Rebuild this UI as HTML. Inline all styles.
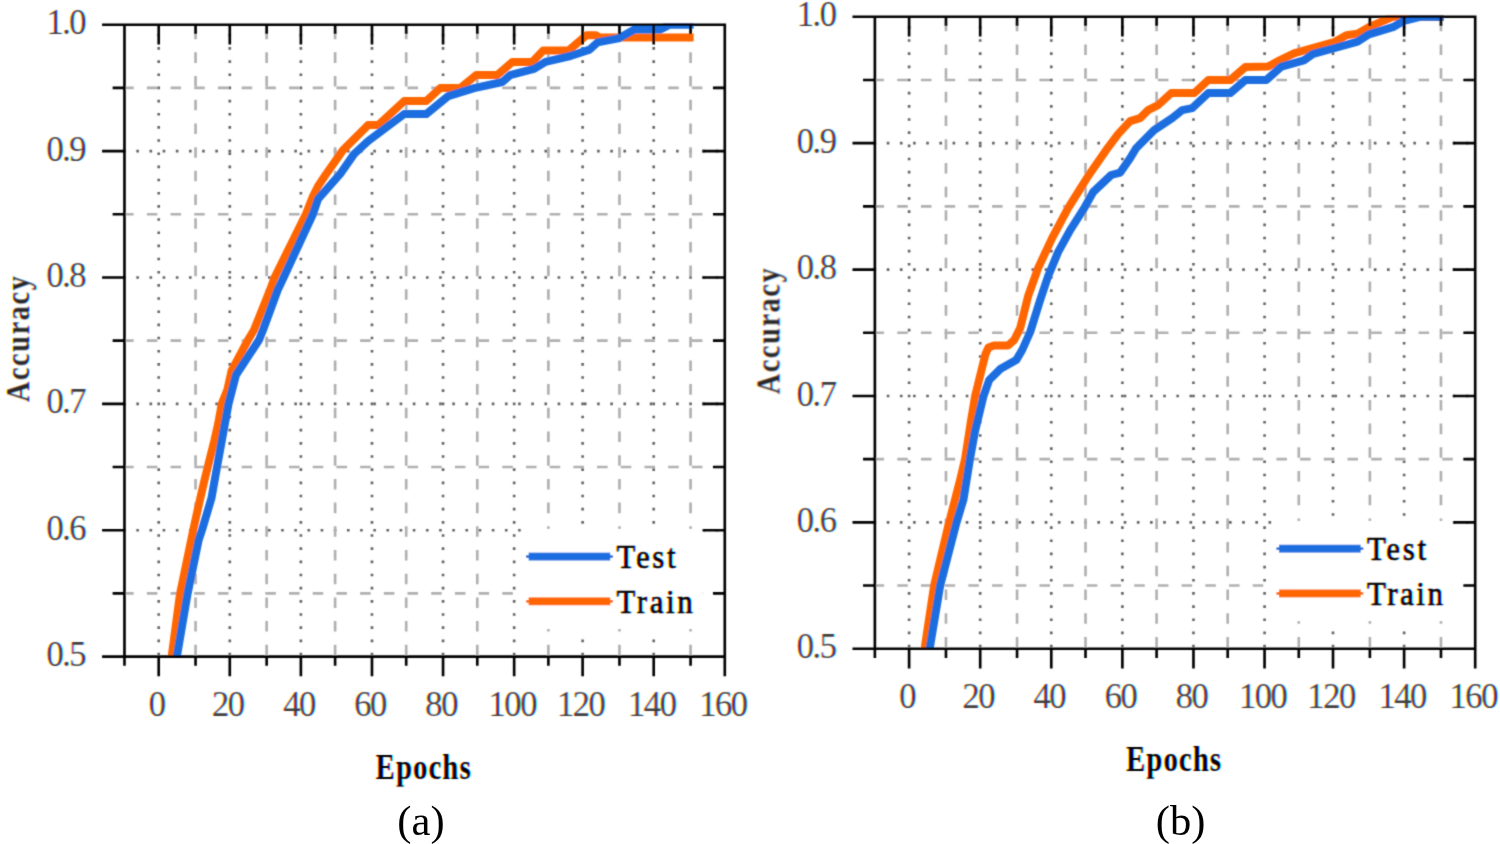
<!DOCTYPE html>
<html><head><meta charset="utf-8"><title>Accuracy vs Epochs</title>
<style>
html,body{margin:0;padding:0;background:#fff;}
body{width:1500px;height:844px;overflow:hidden;position:relative;}
svg{position:absolute;left:0;top:0;display:block;}
text{font-family:"Liberation Serif","Times New Roman",serif;fill:#000;}
.tk{font-size:35px;letter-spacing:-1.7px;fill-opacity:0.76;}
.lg{font-size:34px;stroke:#000;stroke-width:0.7px;}
.ti{font-size:35px;font-weight:bold;}
.rot{fill-opacity:0.85;font-size:34.5px;}
.cap{font-size:42.6px;fill:#000;}
.ct{mix-blend-mode:multiply;}
</style></head><body>
<svg width="1500" height="844" viewBox="0 0 1500 844">
<defs>
<filter id="soft" filterUnits="userSpaceOnUse" x="0" y="0" width="1500" height="844"><feConvolveMatrix order="3" kernelMatrix="1 4 1 4 16 4 1 4 1" divisor="36" edgeMode="duplicate"/></filter>
<filter id="ctA" filterUnits="userSpaceOnUse" x="0" y="0" width="750" height="800" color-interpolation-filters="sRGB"><feConvolveMatrix in="SourceAlpha" order="3" kernelMatrix="1 4 1 4 16 4 1 4 1" divisor="36" edgeMode="none" result="a"/>
<feOffset in="a" dx="0.88" result="aR"/><feOffset in="a" dx="-0.88" result="aB"/>
<feColorMatrix in="aR" type="matrix" values="0 0 0 -1 1  0 0 0 0 1  0 0 0 0 1  0 0 0 0 1" result="cR"/>
<feColorMatrix in="a" type="matrix" values="0 0 0 0 1  0 0 0 -1 1  0 0 0 0 1  0 0 0 0 1" result="cG"/>
<feColorMatrix in="aB" type="matrix" values="0 0 0 0 1  0 0 0 0 1  0 0 0 -1 1  0 0 0 0 1" result="cB"/>
<feBlend in="cR" in2="cG" mode="multiply" result="m"/><feBlend in="m" in2="cB" mode="multiply"/></filter>
<filter id="ctB" filterUnits="userSpaceOnUse" x="750" y="0" width="750" height="800" color-interpolation-filters="sRGB"><feConvolveMatrix in="SourceAlpha" order="3" kernelMatrix="1 4 1 4 16 4 1 4 1" divisor="36" edgeMode="none" result="a"/>
<feOffset in="a" dx="0.88" result="aR"/><feOffset in="a" dx="-0.88" result="aB"/>
<feColorMatrix in="aR" type="matrix" values="0 0 0 -1 1  0 0 0 0 1  0 0 0 0 1  0 0 0 0 1" result="cR"/>
<feColorMatrix in="a" type="matrix" values="0 0 0 0 1  0 0 0 -1 1  0 0 0 0 1  0 0 0 0 1" result="cG"/>
<feColorMatrix in="aB" type="matrix" values="0 0 0 0 1  0 0 0 0 1  0 0 0 -1 1  0 0 0 0 1" result="cB"/>
<feBlend in="cR" in2="cG" mode="multiply" result="m"/><feBlend in="m" in2="cB" mode="multiply"/></filter>
</defs>
<rect width="1500" height="844" fill="#fff"/>
<g id="chart-a" filter="url(#soft)">
<g transform="translate(-0.6,-0.31) scale(2.633)">
<g stroke-width="1" fill="none"><line x1="60.5" y1="249" x2="60.5" y2="9" stroke="#646464" stroke-dasharray="1 4"/><line x1="87.5" y1="249" x2="87.5" y2="9" stroke="#646464" stroke-dasharray="1 4"/><line x1="114.5" y1="249" x2="114.5" y2="9" stroke="#646464" stroke-dasharray="1 4"/><line x1="141.5" y1="249" x2="141.5" y2="9" stroke="#646464" stroke-dasharray="1 4"/><line x1="168.5" y1="249" x2="168.5" y2="9" stroke="#646464" stroke-dasharray="1 4"/><line x1="195.5" y1="249" x2="195.5" y2="9" stroke="#646464" stroke-dasharray="1 4"/><line x1="221.5" y1="249" x2="221.5" y2="9" stroke="#646464" stroke-dasharray="1 4"/><line x1="248.5" y1="249" x2="248.5" y2="9" stroke="#646464" stroke-dasharray="1 4"/><line x1="47" y1="201.5" x2="275" y2="201.5" stroke="#646464" stroke-dasharray="1 4"/><line x1="47" y1="153.5" x2="275" y2="153.5" stroke="#646464" stroke-dasharray="1 4"/><line x1="47" y1="105.5" x2="275" y2="105.5" stroke="#646464" stroke-dasharray="1 4"/><line x1="47" y1="57.5" x2="275" y2="57.5" stroke="#646464" stroke-dasharray="1 4"/><line x1="74.5" y1="249" x2="74.5" y2="9" stroke="#b0b0b0" stroke-dasharray="4 5"/><line x1="101.5" y1="249" x2="101.5" y2="9" stroke="#b0b0b0" stroke-dasharray="4 5"/><line x1="127.5" y1="249" x2="127.5" y2="9" stroke="#b0b0b0" stroke-dasharray="4 5"/><line x1="154.5" y1="249" x2="154.5" y2="9" stroke="#b0b0b0" stroke-dasharray="4 5"/><line x1="181.5" y1="249" x2="181.5" y2="9" stroke="#b0b0b0" stroke-dasharray="4 5"/><line x1="208.5" y1="249" x2="208.5" y2="9" stroke="#b0b0b0" stroke-dasharray="4 5"/><line x1="235.5" y1="249" x2="235.5" y2="9" stroke="#b0b0b0" stroke-dasharray="4 5"/><line x1="262.5" y1="249" x2="262.5" y2="9" stroke="#b0b0b0" stroke-dasharray="4 5"/><line x1="47" y1="225.5" x2="275" y2="225.5" stroke="#b0b0b0" stroke-dasharray="4 5"/><line x1="47" y1="177.5" x2="275" y2="177.5" stroke="#b0b0b0" stroke-dasharray="4 5"/><line x1="47" y1="129.5" x2="275" y2="129.5" stroke="#b0b0b0" stroke-dasharray="4 5"/><line x1="47" y1="81.5" x2="275" y2="81.5" stroke="#b0b0b0" stroke-dasharray="4 5"/><line x1="47" y1="33.5" x2="275" y2="33.5" stroke="#b0b0b0" stroke-dasharray="4 5"/></g>
</g>
<clipPath id="clip1"><rect x="123.15" y="23.39" width="602.96" height="634.55"/></clipPath>
<g clip-path="url(#clip1)" fill="none" stroke-width="8" stroke-linejoin="round" stroke-linecap="square">
<polyline points="171.5,660.0 172.0,654.0 180.0,594.0 193.2,530.2 198.6,505.6 203.9,482.6 209.3,460.8 214.5,439.9 218.5,422.1 221.7,404.0 227.4,389.6 231.5,371.0 248.0,340.0 254.0,330.0 270.0,290.0 274.5,277.7 306.0,214.0 313.0,196.2 318.0,186.2 326.0,174.2 343.0,150.1 368.1,125.1 378.1,125.1 404.1,101.1 426.2,101.1 440.2,88.1 460.2,88.1 476.2,75.0 497.3,75.0 512.3,62.0 532.3,62.0 543.2,50.4 568.8,50.4 586.4,35.2 596.0,35.2 599.2,37.6 689.6,37.6" stroke="#ff6600"/>
<polyline points="177.0,660.0 177.3,654.0 187.6,593.6 198.7,540.0 202.0,530.0 211.5,498.0 217.0,467.0 228.5,404.0 236.0,375.0 259.0,340.0 263.0,330.0 277.7,290.0 283.5,277.7 313.0,214.0 318.0,199.2 340.0,174.2 354.0,154.1 368.0,141.1 384.0,129.1 404.1,114.1 426.2,114.1 448.2,96.1 474.2,88.1 502.3,82.0 510.0,75.2 534.0,68.8 545.5,61.8 570.4,56.0 589.6,49.6 597.6,42.4 618.4,38.4 634.4,29.6 660.0,29.6 669.6,24.7 689.6,24.7" stroke="#1c6ee0"/>
</g>
<g transform="translate(-0.6,-0.31) scale(2.633)">
<rect x="199" y="201" width="68" height="38" fill="#fff"/>
<rect x="201" y="210" width="31" height="3" fill="#1c6ee0"/><rect x="200" y="211" width="33" height="1" fill="#1c6ee0"/>
<rect x="201" y="227" width="31" height="3" fill="#ff6600"/><rect x="200" y="228" width="33" height="1" fill="#ff6600"/>
<path d="M39 9.5H276 M39 249.5H276 M47.5 9V253 M275.5 9V257 M60.5 9v8 M60.5 249v8 M74.5 9v4 M74.5 249v4 M87.5 9v8 M87.5 249v8 M101.5 9v4 M101.5 249v4 M114.5 9v8 M114.5 249v8 M127.5 9v4 M127.5 249v4 M141.5 9v8 M141.5 249v8 M154.5 9v4 M154.5 249v4 M168.5 9v8 M168.5 249v8 M181.5 9v4 M181.5 249v4 M195.5 9v8 M195.5 249v8 M208.5 9v4 M208.5 249v4 M221.5 9v8 M221.5 249v8 M235.5 9v4 M235.5 249v4 M248.5 9v8 M248.5 249v8 M262.5 9v4 M262.5 249v4 M48 225.5h-5 M276 225.5h-5 M48 201.5h-9 M276 201.5h-9 M48 177.5h-5 M276 177.5h-5 M48 153.5h-9 M276 153.5h-9 M48 129.5h-5 M276 129.5h-5 M48 105.5h-9 M276 105.5h-9 M48 81.5h-5 M276 81.5h-5 M48 57.5h-9 M276 57.5h-9 M48 33.5h-5 M276 33.5h-5" stroke="#000" stroke-width="1" fill="none"/>
</g>
</g>
<g id="chart-b" filter="url(#soft)">
<g transform="translate(-0.6,-0.31) scale(2.633)">
<g stroke-width="1" fill="none"><line x1="345.5" y1="246" x2="345.5" y2="6" stroke="#646464" stroke-dasharray="1 4"/><line x1="372.5" y1="246" x2="372.5" y2="6" stroke="#646464" stroke-dasharray="1 4"/><line x1="399.5" y1="246" x2="399.5" y2="6" stroke="#646464" stroke-dasharray="1 4"/><line x1="426.5" y1="246" x2="426.5" y2="6" stroke="#646464" stroke-dasharray="1 4"/><line x1="453.5" y1="246" x2="453.5" y2="6" stroke="#646464" stroke-dasharray="1 4"/><line x1="480.5" y1="246" x2="480.5" y2="6" stroke="#646464" stroke-dasharray="1 4"/><line x1="506.5" y1="246" x2="506.5" y2="6" stroke="#646464" stroke-dasharray="1 4"/><line x1="533.5" y1="246" x2="533.5" y2="6" stroke="#646464" stroke-dasharray="1 4"/><line x1="332" y1="198.5" x2="560" y2="198.5" stroke="#646464" stroke-dasharray="1 4"/><line x1="332" y1="150.5" x2="560" y2="150.5" stroke="#646464" stroke-dasharray="1 4"/><line x1="332" y1="102.5" x2="560" y2="102.5" stroke="#646464" stroke-dasharray="1 4"/><line x1="332" y1="54.5" x2="560" y2="54.5" stroke="#646464" stroke-dasharray="1 4"/><line x1="359.5" y1="246" x2="359.5" y2="6" stroke="#b0b0b0" stroke-dasharray="4 5"/><line x1="386.5" y1="246" x2="386.5" y2="6" stroke="#b0b0b0" stroke-dasharray="4 5"/><line x1="412.5" y1="246" x2="412.5" y2="6" stroke="#b0b0b0" stroke-dasharray="4 5"/><line x1="439.5" y1="246" x2="439.5" y2="6" stroke="#b0b0b0" stroke-dasharray="4 5"/><line x1="466.5" y1="246" x2="466.5" y2="6" stroke="#b0b0b0" stroke-dasharray="4 5"/><line x1="493.5" y1="246" x2="493.5" y2="6" stroke="#b0b0b0" stroke-dasharray="4 5"/><line x1="520.5" y1="246" x2="520.5" y2="6" stroke="#b0b0b0" stroke-dasharray="4 5"/><line x1="547.5" y1="246" x2="547.5" y2="6" stroke="#b0b0b0" stroke-dasharray="4 5"/><line x1="332" y1="222.5" x2="560" y2="222.5" stroke="#b0b0b0" stroke-dasharray="4 5"/><line x1="332" y1="174.5" x2="560" y2="174.5" stroke="#b0b0b0" stroke-dasharray="4 5"/><line x1="332" y1="126.5" x2="560" y2="126.5" stroke="#b0b0b0" stroke-dasharray="4 5"/><line x1="332" y1="78.5" x2="560" y2="78.5" stroke="#b0b0b0" stroke-dasharray="4 5"/><line x1="332" y1="30.5" x2="560" y2="30.5" stroke="#b0b0b0" stroke-dasharray="4 5"/></g>
</g>
<clipPath id="clip2"><rect x="873.56" y="15.49" width="602.96" height="634.55"/></clipPath>
<g clip-path="url(#clip2)" fill="none" stroke-width="8" stroke-linejoin="round" stroke-linecap="square">
<polyline points="924.7,652.0 925.0,646.2 934.1,585.5 949.1,522.5 960.1,480.0 965.1,458.8 971.1,420.1 975.1,396.1 981.5,370.1 985.5,354.0 988.5,347.5 994.1,345.4 1008.2,345.4 1014.2,340.0 1020.2,328.0 1028.1,296.2 1038.1,268.1 1052.1,238.1 1068.1,208.1 1078.2,192.0 1088.2,176.0 1106.1,150.2 1118.1,134.1 1130.1,121.1 1140.1,118.1 1148.1,110.1 1158.1,105.1 1171.2,93.1 1194.2,93.1 1208.2,80.1 1230.2,80.1 1245.3,67.1 1268.0,66.6 1279.6,60.4 1294.0,53.4 1312.6,48.0 1335.0,41.8 1346.4,35.2 1357.6,33.6 1368.8,27.2 1381.6,21.6 1392.8,16.8 1439.7,16.8" stroke="#ff6600"/>
<polyline points="929.8,652.0 930.1,646.2 940.2,585.5 956.5,522.5 963.5,499.4 970.0,458.9 975.0,431.2 983.5,396.1 989.2,380.0 1000.2,369.1 1016.2,360.1 1022.2,350.0 1030.2,332.0 1040.1,300.2 1048.1,276.2 1058.1,252.1 1070.2,230.1 1084.2,208.1 1093.2,192.0 1111.2,175.0 1120.2,172.6 1130.1,158.2 1136.1,148.2 1154.1,130.1 1172.2,118.1 1182.2,110.1 1192.2,108.1 1208.2,93.1 1230.2,93.1 1245.3,80.1 1266.3,80.1 1281.5,66.6 1303.8,60.4 1313.3,53.8 1335.0,48.0 1357.6,41.6 1368.8,34.4 1392.8,27.2 1404.0,20.8 1420.0,16.8 1439.7,16.8" stroke="#1c6ee0"/>
</g>
<g transform="translate(-0.6,-0.31) scale(2.633)">
<rect x="484" y="198" width="68" height="38" fill="#fff"/>
<rect x="486" y="207" width="31" height="3" fill="#1c6ee0"/><rect x="485" y="208" width="33" height="1" fill="#1c6ee0"/>
<rect x="486" y="224" width="31" height="3" fill="#ff6600"/><rect x="485" y="225" width="33" height="1" fill="#ff6600"/>
<path d="M324 6.5H561 M324 246.5H561 M332.5 6V250 M560.5 6V254 M345.5 6v8 M345.5 246v8 M359.5 6v4 M359.5 246v4 M372.5 6v8 M372.5 246v8 M386.5 6v4 M386.5 246v4 M399.5 6v8 M399.5 246v8 M412.5 6v4 M412.5 246v4 M426.5 6v8 M426.5 246v8 M439.5 6v4 M439.5 246v4 M453.5 6v8 M453.5 246v8 M466.5 6v4 M466.5 246v4 M480.5 6v8 M480.5 246v8 M493.5 6v4 M493.5 246v4 M506.5 6v8 M506.5 246v8 M520.5 6v4 M520.5 246v4 M533.5 6v8 M533.5 246v8 M547.5 6v4 M547.5 246v4 M333 222.5h-5 M561 222.5h-5 M333 198.5h-9 M561 198.5h-9 M333 174.5h-5 M561 174.5h-5 M333 150.5h-9 M561 150.5h-9 M333 126.5h-5 M561 126.5h-5 M333 102.5h-9 M561 102.5h-9 M333 78.5h-5 M561 78.5h-5 M333 54.5h-9 M561 54.5h-9 M333 30.5h-5 M561 30.5h-5" stroke="#000" stroke-width="1" fill="none"/>
</g>
</g>
<g id="labels-a" class="ct" filter="url(#ctA)">
<text class="lg" transform="translate(616.5,567.9) scale(0.9,1)" textLength="65.6" lengthAdjust="spacing">Test</text>
<text class="lg" transform="translate(616.5,612.6) scale(0.9,1)" textLength="84.4" lengthAdjust="spacing">Train</text>
<text class="tk" x="156.5" y="716.1" text-anchor="middle">0</text>
<text class="tk" x="227.6" y="716.1" text-anchor="middle">20</text>
<text class="tk" x="298.7" y="716.1" text-anchor="middle">40</text>
<text class="tk" x="369.8" y="716.1" text-anchor="middle">60</text>
<text class="tk" x="440.9" y="716.1" text-anchor="middle">80</text>
<text class="tk" x="512.0" y="716.1" text-anchor="middle">100</text>
<text class="tk" x="580.4" y="716.1" text-anchor="middle">120</text>
<text class="tk" x="651.5" y="716.1" text-anchor="middle">140</text>
<text class="tk" x="722.6" y="716.1" text-anchor="middle">160</text>
<text class="tk" x="84.8" y="666.1" text-anchor="end">0.5</text>
<text class="tk" x="84.8" y="539.7" text-anchor="end">0.6</text>
<text class="tk" x="84.8" y="413.4" text-anchor="end">0.7</text>
<text class="tk" x="84.8" y="287.0" text-anchor="end">0.8</text>
<text class="tk" x="84.8" y="160.6" text-anchor="end">0.9</text>
<text class="tk" x="84.8" y="34.2" text-anchor="end">1.0</text>
<text class="ti" transform="translate(423.1,778.6) scale(0.82,1)" text-anchor="middle" textLength="115.9" lengthAdjust="spacing">Epochs</text>
<text class="ti rot" transform="translate(29.0,339.2) rotate(-90) scale(0.82,1)" text-anchor="middle" textLength="153.7" lengthAdjust="spacing">Accuracy</text>
</g>
<g id="labels-b" class="ct" filter="url(#ctB)">
<text class="lg" transform="translate(1366.9,560.0) scale(0.9,1)" textLength="65.6" lengthAdjust="spacing">Test</text>
<text class="lg" transform="translate(1366.9,604.7) scale(0.9,1)" textLength="84.4" lengthAdjust="spacing">Train</text>
<text class="tk" x="906.9" y="708.2" text-anchor="middle">0</text>
<text class="tk" x="978.0" y="708.2" text-anchor="middle">20</text>
<text class="tk" x="1049.1" y="708.2" text-anchor="middle">40</text>
<text class="tk" x="1120.2" y="708.2" text-anchor="middle">60</text>
<text class="tk" x="1191.3" y="708.2" text-anchor="middle">80</text>
<text class="tk" x="1262.4" y="708.2" text-anchor="middle">100</text>
<text class="tk" x="1330.8" y="708.2" text-anchor="middle">120</text>
<text class="tk" x="1401.9" y="708.2" text-anchor="middle">140</text>
<text class="tk" x="1473.0" y="708.2" text-anchor="middle">160</text>
<text class="tk" x="835.2" y="658.2" text-anchor="end">0.5</text>
<text class="tk" x="835.2" y="531.8" text-anchor="end">0.6</text>
<text class="tk" x="835.2" y="405.5" text-anchor="end">0.7</text>
<text class="tk" x="835.2" y="279.1" text-anchor="end">0.8</text>
<text class="tk" x="835.2" y="152.7" text-anchor="end">0.9</text>
<text class="tk" x="835.2" y="26.3" text-anchor="end">1.0</text>
<text class="ti" transform="translate(1173.5,770.7) scale(0.82,1)" text-anchor="middle" textLength="115.9" lengthAdjust="spacing">Epochs</text>
<text class="ti rot" transform="translate(779.4,331.3) rotate(-90) scale(0.82,1)" text-anchor="middle" textLength="153.7" lengthAdjust="spacing">Accuracy</text>
</g>
<text class="cap" x="421" y="835" text-anchor="middle">(a)</text>
<text class="cap" x="1180.7" y="835" text-anchor="middle">(b)</text>
</svg>
</body></html>
